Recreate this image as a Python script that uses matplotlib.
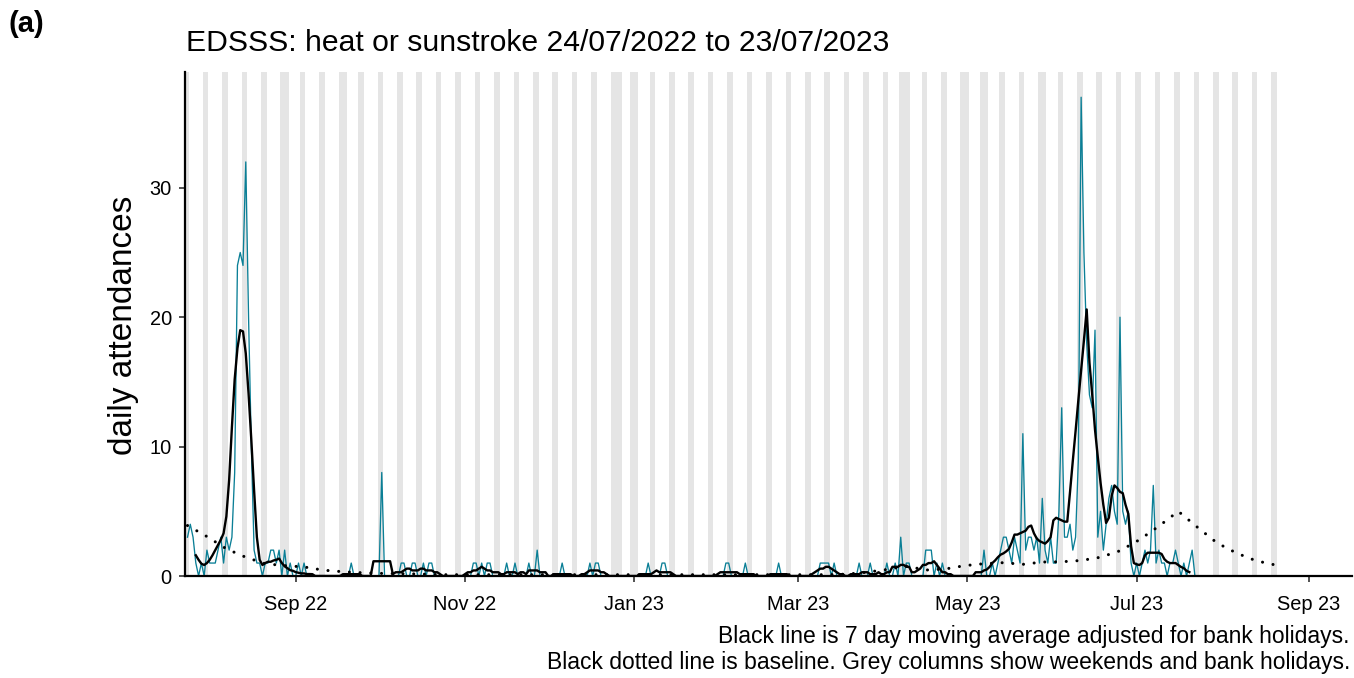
import numpy as np
import pandas as pd
import matplotlib
matplotlib.use("Agg")
import matplotlib.pyplot as plt
import matplotlib.dates as mdates

plt.rcParams["font.family"] = ["Liberation Sans", "DejaVu Sans"]

nan = np.nan
start = "2022-07-24"
shade_end = "2023-08-20"

# daily attendances, by month
cnt_jul22 = [3, 4, 3, 1, 0, 1, 0, 2]
cnt_aug22 = [1, 1, 1, 2, 3, 1, 3, 2, 3, 8, 24, 25, 24, 32, 20, 10, 2, 1, 1, 0, 1,
             1, 2, 2, 1, 2, 0, 2, 0, 1, 0]
cnt_sep22 = [0, 1, 0, 1, 0, 0, 0, 0, 0, 0, 0, 0, 0, 0, 0, 0, 0, 0, 0, 0, 1,
             0, 0, 0, 0, 0, 0, 0, 0, 0]
cnt_oct22 = [0, 8, 0, 0, 0, 0, 0, 0, 1, 1, 0, 0, 1, 1, 0, 0, 1, 0, 1, 1, 0,
             0, 0, 0, 0, 0, 0, 0, 0, 0, 0]
cnt_nov22 = [0, 0, 0, 1, 1, 0, 1, 0, 1, 1, 0, 0, 0, 0, 0, 1, 0, 0, 1, 0, 0,
             0, 0, 1, 0, 0, 2, 0, 0, 0]
cnt_dec22 = [0, 0, 0, 0, 0, 1, 0, 0, 0, 0, 0, 0, 0, 0, 0, 1, 0, 1, 1, 0, 0,
             0, 0, 0, 0, 0, 0, 0, 0, 0, 0]
cnt_jan23 = [0, 0, 0, 0, 0, 1, 0, 0, 0, 0, 1, 1, 0, 0, 0, 0, 0, 0, 0, 0, 0,
             0, 0, 0, 0, 0, 0, 0, 0, 0, 0]
cnt_feb23 = [0, 0, 1, 1, 0, 0, 0, 0, 0, 1, 0, 0, 0, 0, 0, 0, 0, 0, 0, 0, 0,
             1, 0, 0, 0, 0, 0, 0]
cnt_mar23 = [0, 0, 0, 0, 0, 0, 0, 0, 1, 1, 1, 1, 0, 1, 0, 0, 0, 0, 0, 0, 0,
             0, 1, 0, 0, 0, 1, 0, 0, 0, 0]
cnt_apr23 = [0, 1, 0, 0, 1, 0, 3, 0, 1, 1, 0, 0, 0, 0, 0, 2, 2, 2, 0, 1, 0,
             1, 0, 0, 0, 0, 0, 0, 0, 0]
cnt_may23 = [0, 0, 0, 0, 0, 0, 2, 0, 0, 1, 0, 1, 2, 3, 3, 2, 1, 3, 2, 1, 11,
             2, 3, 3, 2, 3, 1, 6, 2, 1, 3]
cnt_jun23 = [1, 1, 5, 13, 3, 3, 4, 2, 3, 9, 37, 25, 18, 14, 13, 19, 3, 5, 2, 4, 6,
             7, 5, 4, 20, 5, 4, 5, 1, 0]
cnt_jul23 = [1, 0, 1, 2, 1, 2, 7, 1, 2, 1, 1, 0, 1, 1, 2, 1, 0, 1, 0, 1, 2, 0, 0]

# 7 day moving average (black line), by month
ma_jul22 = [nan, nan, nan, 1.6, 1.25, 0.95, 0.85, 1.0]
ma_aug22 = [1.25, 1.6, 2.0, 2.4, 2.8, 3.3, 4.6, 7.4, 11.5, 15.2, 17.6, 19.0, 18.9, 17.2,
            14.1, 10.5, 6.6, 3.0, 1.25, 0.85, 1.0, 1.1, 1.1, 1.2, 1.25, 1.35, 1.0, 0.75,
            0.6, 0.45, 0.4]
ma_sep22 = [0.3, 0.25, 0.2, 0.2, 0.15, 0.15, 0.14] + [0] * 10 + [0.14] * 7 + [0] * 4 + [1.14, 1.14]
ma_oct22 = [1.14] * 5 + [0.14, 0.29, 0.29, 0.29, 0.43, 0.57, 0.57, 0.43, 0.43, 0.43, 0.57,
                         0.57, 0.43, 0.43, 0.43, 0.29, 0.29, 0.14] + [0] * 8
ma_nov22 = [0.14, 0.29, 0.29, 0.43, 0.43, 0.57, 0.71, 0.57, 0.43, 0.43, 0.29, 0.29, 0.29,
            0.14, 0.14, 0.29, 0.29, 0.29, 0.29, 0.14, 0.29, 0.29, 0.14, 0.43, 0.43, 0.43,
            0.43, 0.29, 0.29, 0.29]
ma_dec22 = [0, 0] + [0.14] * 7 + [0] * 3 + [0.14, 0.14, 0.29, 0.43, 0.43, 0.43, 0.43, 0.29,
                                             0.29, 0.14] + [0] * 9
ma_jan23 = [0, 0] + [0.14] * 5 + [0.29, 0.43] + [0.29] * 5 + [0.14] + [0] * 15 + [0.14]
ma_feb23 = [0.29] * 7 + [0.14] * 6 + [0] * 5 + [0.14] * 7 + [0] * 3
ma_mar23 = [0] * 5 + [0.14, 0.29, 0.43, 0.57, 0.57, 0.71, 0.71, 0.57, 0.43, 0.29, 0.14, 0.14,
                      0, 0, 0.14, 0.14, 0.14, 0.14, 0.29, 0.29, 0.29, 0.14, 0.14, 0.14, 0.29, 0.14]
ma_apr23 = [0.14, 0.29, 0.29, 0.71, 0.71, 0.71, 0.86, 0.86, 0.71, 0.71, 0.29, 0.29, 0.43,
            0.57, 0.86, 0.86, 1.0, 1.0, 1.14, 0.86, 0.57, 0.29, 0.29, 0.14, 0.14, 0, 0, 0, 0, 0]
ma_may23 = [0, 0, 0, 0.29, 0.29, 0.29, 0.43, 0.5, 0.7, 1.0, 1.2, 1.45, 1.65, 1.75, 1.9, 2.1,
            2.6, 3.2, 3.2, 3.3, 3.4, 3.5, 3.8, 3.9, 3.3, 2.9, 2.7, 2.6, 2.5, 2.7, 3.0]
ma_jun23 = [4.3, 4.5, 4.4, 4.3, 4.2, 4.2, 6.5, 8.9, 11.2, 13.6, 15.9, 18.2, 20.6, 16.5, 14.0,
            11.3, 9.2, 7.2, 5.5, 4.1, 4.5, 6.2, 7.0, 6.8, 6.5, 6.4, 5.5, 4.8, 2.3, 1.0]
ma_jul23 = [0.9, 0.85, 1.0, 1.6, 1.8, 1.8, 1.8, 1.8, 1.8, 1.7, 1.3, 1.1, 1.0, 1.0, 1.0, 0.85,
            0.7, 0.6, 0.4, 0.3, nan, nan, nan]

# weekly baseline (dotted line), from 24/07/2022
baseline = ([3.9, 3.05, 2.1, 1.45, 0.95, 0.8, 0.7, 0.45, 0.33, 0.25, 0.2, 0.18, 0.15]
            + [0.1] * 21
            + [0.15, 0.3, 0.5, 0.77, 0.46, 0.54, 0.8, 0.95, 1.03, 0.9, 1.08, 1.1, 1.2, 1.45,
               1.95, 2.8, 3.85, 5.0, 3.75, 2.55, 1.77, 1.18, 0.85])

bank_holidays = ["2022-08-29", "2022-09-19", "2022-12-26", "2022-12-27", "2023-01-02",
                 "2023-04-07", "2023-04-10", "2023-05-01", "2023-05-08", "2023-05-29"]

tick_dates = ["2022-09-01", "2022-11-01", "2023-01-01", "2023-03-01",
              "2023-05-01", "2023-07-01", "2023-09-01"]
tick_labels = ["Sep 22", "Nov 22", "Jan 23", "Mar 23", "May 23", "Jul 23", "Sep 23"]

counts = (cnt_jul22 + cnt_aug22 + cnt_sep22 + cnt_oct22 + cnt_nov22 + cnt_dec22 + cnt_jan23
          + cnt_feb23 + cnt_mar23 + cnt_apr23 + cnt_may23 + cnt_jun23 + cnt_jul23)
ma7 = (ma_jul22 + ma_aug22 + ma_sep22 + ma_oct22 + ma_nov22 + ma_dec22 + ma_jan23
       + ma_feb23 + ma_mar23 + ma_apr23 + ma_may23 + ma_jun23 + ma_jul23)
dates = pd.date_range(start, periods=len(counts), freq="D")
base_dates = pd.date_range(start, periods=len(baseline), freq="7D")

W, H = 1354, 678
fig = plt.figure(figsize=(W / 100, H / 100), dpi=100)
ax = fig.add_axes([185 / W, 1 - 576 / H, (1352 - 185) / W, (576 - 72) / H])

# grey columns: weekends and bank holidays
bh = set(pd.to_datetime(bank_holidays))
for d in pd.date_range(start, shade_end, freq="D"):
    if d.weekday() >= 5 or d in bh:
        x = mdates.date2num(d)
        ax.axvspan(x - 0.5, x + 0.5, color="#e5e5e5", lw=0, zorder=0)

ax.plot(dates, counts, color="#0a7f96", lw=0.95, zorder=2)
ax.plot(dates, ma7, color="black", lw=1.7, zorder=3)
ax.plot(base_dates, baseline, color="black", lw=2.2, linestyle=(0, (0.01, 3.5)),
        dash_capstyle="round", zorder=3)

x0 = mdates.date2num(pd.Timestamp(start))
ax.set_xlim(x0 - 0.9, x0 + 419.6)
ax.set_ylim(0, 38.95)
ax.set_xticks([mdates.date2num(pd.Timestamp(d)) for d in tick_dates])
ax.set_xticklabels(tick_labels)
ax.set_yticks([0, 10, 20, 30])

for s in ["top", "right"]:
    ax.spines[s].set_visible(False)
for s in ["left", "bottom"]:
    ax.spines[s].set_linewidth(1.6)
    ax.spines[s].set_color("black")
ax.tick_params(axis="both", length=4.5, width=1.2, color="#333333", labelsize=14.4,
               labelcolor="black")
ax.tick_params(axis="x", pad=9)
ax.tick_params(axis="y", pad=5)

fig.text(124 / W, 1 - 325 / H, "daily attendances", rotation=90, ha="center", va="center",
         fontsize=24)
fig.text(186 / W, 1 - 43 / H, "EDSSS: heat or sunstroke 24/07/2022 to 23/07/2023",
         ha="left", va="center", fontsize=21.7)
fig.text(8 / W, 1 - 24 / H, "(a)", ha="left", va="center", fontsize=21, fontweight="bold")
fig.text(1350 / W, 1 - 637 / H, "Black line is 7 day moving average adjusted for bank holidays.",
         ha="right", va="center", fontsize=16.5)
fig.text(1350 / W, 1 - 663 / H,
         "Black dotted line is baseline. Grey columns show weekends and bank holidays.",
         ha="right", va="center", fontsize=16.5)

fig.savefig("out.png", dpi=100)
print("saved out.png")
